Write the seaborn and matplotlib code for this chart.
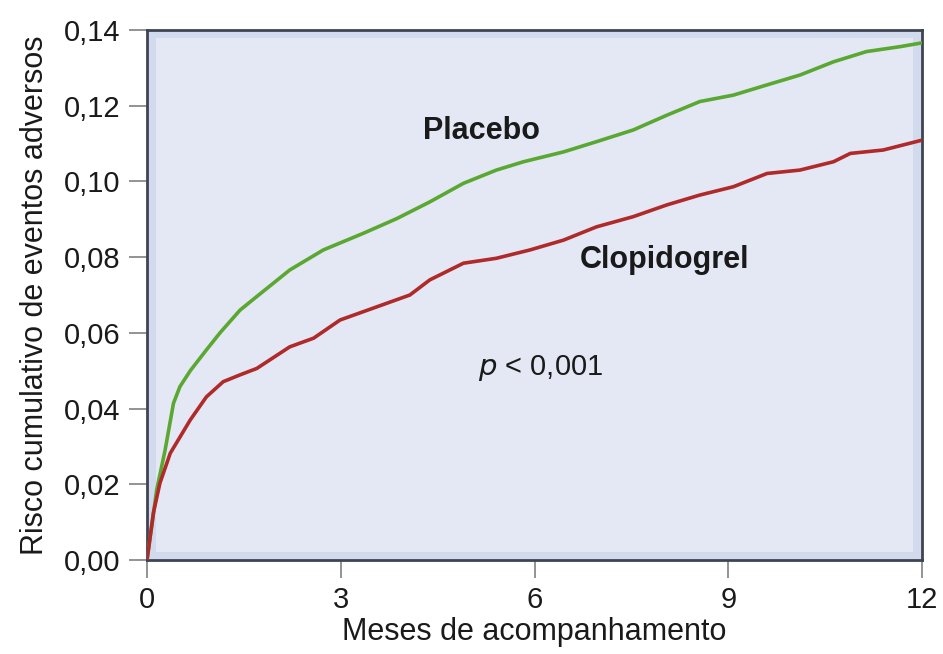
import numpy as np
import pandas as pd
import matplotlib
matplotlib.use("Agg")
import matplotlib.pyplot as plt
from matplotlib.patches import Rectangle
import seaborn as sns

# Cumulative adverse-event risk by month of follow-up
placebo_months = [0.0, 0.15, 0.28, 0.41, 0.51, 0.67, 0.92, 1.13, 1.44, 1.70, 2.21, 2.73,
                  3.35, 3.87, 4.38, 4.90, 5.41, 5.83, 6.45, 6.96, 7.53, 8.05, 8.56,
                  9.08, 9.60, 10.11, 10.63, 11.14, 11.66, 12.0]
placebo_risk = [0.0, 0.0185, 0.029, 0.0414, 0.0458, 0.050, 0.0555, 0.060, 0.066, 0.0696,
                0.0766, 0.0819, 0.0863, 0.0902, 0.0946, 0.0995, 0.1030, 0.1052, 0.1078,
                0.1105, 0.1136, 0.1175, 0.1211, 0.1228, 0.1255, 0.1281, 0.1316, 0.1343,
                0.1356, 0.1366]

clopidogrel_months = [0.0, 0.10, 0.20, 0.36, 0.67, 0.92, 1.18, 1.44, 1.70, 2.21, 2.58, 2.99,
                      3.35, 4.07, 4.38, 4.90, 5.41, 5.93, 6.45, 6.96, 7.53, 8.05, 8.56,
                      9.08, 9.60, 10.11, 10.63, 10.89, 11.40, 12.0]
clopidogrel_risk = [0.0, 0.0125, 0.0203, 0.0282, 0.037, 0.0431, 0.0471, 0.0489, 0.0506,
                    0.0563, 0.0586, 0.0634, 0.0656, 0.0700, 0.0740, 0.0784, 0.0797, 0.0819,
                    0.0845, 0.0880, 0.0907, 0.0938, 0.0964, 0.0986, 0.1021, 0.1030, 0.1052,
                    0.1074, 0.1083, 0.1109]

x_ticks = [0, 3, 6, 9, 12]
y_ticks = [0.00, 0.02, 0.04, 0.06, 0.08, 0.10, 0.12, 0.14]
y_tick_labels = ["0,00", "0,02", "0,04", "0,06", "0,08", "0,10", "0,12", "0,14"]

df = pd.DataFrame({
    "mes": placebo_months + clopidogrel_months,
    "risco": placebo_risk + clopidogrel_risk,
    "grupo": ["Placebo"] * len(placebo_months) + ["Clopidogrel"] * len(clopidogrel_months),
})

sns.set_style("white")
plt.rcParams["font.family"] = ["Liberation Sans", "DejaVu Sans"]

fig = plt.figure(figsize=(9.43, 6.54), dpi=100)
ax = fig.add_axes([147 / 943, 1 - 560 / 654, 775 / 943, 530 / 654])

# panel: faint blue edge band with a lighter interior
ax.set_facecolor("#d2dbee")
ax.add_patch(Rectangle((0.011, 0.016), 0.978, 0.968, transform=ax.transAxes,
                       facecolor="#e3e8f4", edgecolor="none", zorder=0))

sns.lineplot(data=df, x="mes", y="risco", hue="grupo",
             palette={"Placebo": "#5aa832", "Clopidogrel": "#b02a2a"},
             linewidth=2.6, legend=False, ax=ax, zorder=3, estimator=None, sort=False)

ax.set_xlim(0, 12)
ax.set_ylim(0, 0.14)
ax.set_xticks(x_ticks)
ax.set_xticklabels([str(t) for t in x_ticks])
ax.set_yticks(y_ticks)
ax.set_yticklabels(y_tick_labels)

for side in ["left", "right", "top", "bottom"]:
    ax.spines[side].set_visible(True)
    ax.spines[side].set_color("#3e4452")
    ax.spines[side].set_linewidth(2.0)

ax.tick_params(axis="both", which="major", direction="out", length=13, width=1.3,
               color="#8a8a8a", labelsize=21, labelcolor="#1a1a1a", pad=6,
               bottom=True, left=True)

ax.set_xlabel("Meses de acompanhamento", fontsize=22, color="#1a1a1a", labelpad=2)
ax.set_ylabel("Risco cumulativo de eventos adversos", fontsize=22, color="#1a1a1a", labelpad=10)

ax.text(4.27, 0.1133, "Placebo", fontsize=22, fontweight="bold", color="#1a1a1a",
        ha="left", va="center")
ax.text(6.70, 0.0792, "Clopidogrel", fontsize=22, fontweight="bold", color="#1a1a1a",
        ha="left", va="center")
ax.text(5.13, 0.0507, r"$\it{p}$" + " < 0,001", fontsize=21, color="#1a1a1a",
        ha="left", va="center")

fig.savefig("out.png", dpi=100, facecolor="white")
